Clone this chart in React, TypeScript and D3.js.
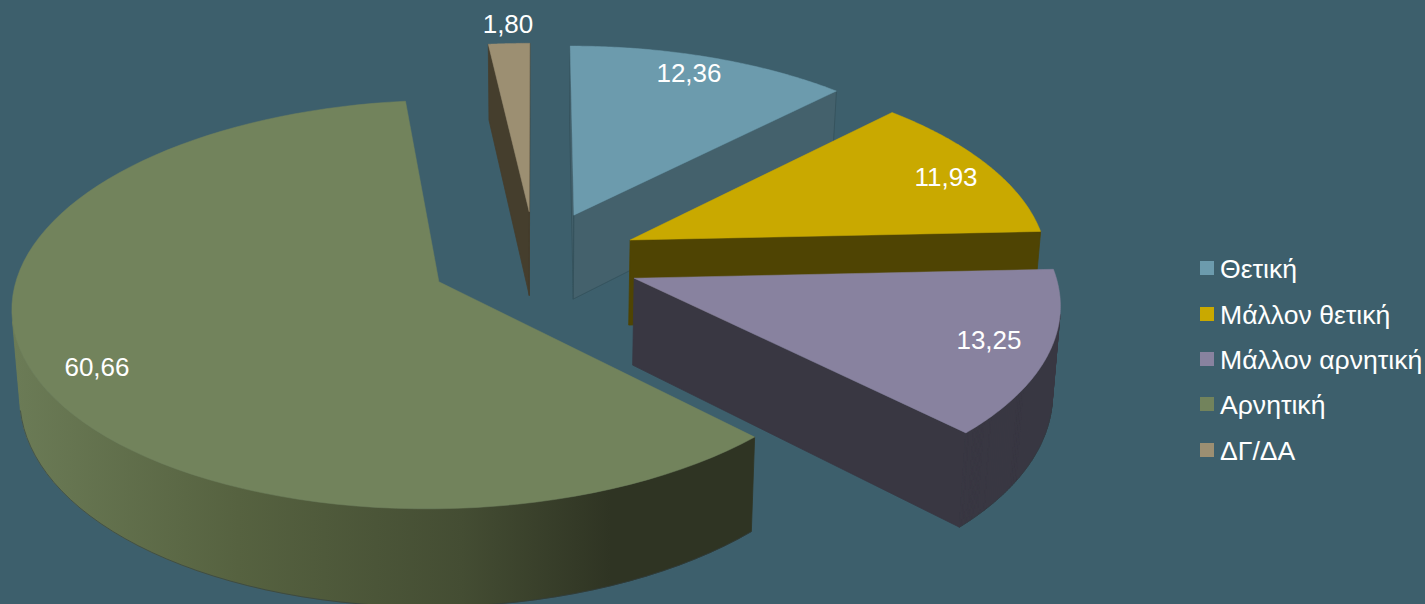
import React from "react";
import * as d3 from "d3";

const categories = ["Θετική", "Μάλλον θετική", "Μάλλον αρνητική", "Αρνητική", "ΔΓ/ΔΑ"];
const values = [12.36, 11.93, 13.25, 60.66, 1.8];
const valueLabels = ["12,36", "11,93", "13,25", "60,66", "1,80"];
const topColors = ["#6c9bad", "#c9a900", "#88829f", "#72835c", "#9c8f72"];
const faceColors = ["#44616c", "#4f4403", "#393742", "#2f3423", "#453e2d"];
const edgeColors = ["#34505a", "#4f4403", "#393742", "#2f3423", "#453e2d"];
const labelPositions: [number, number][] = [[689, 73], [946, 177], [989, 340], [97, 367], [508, 24]];
const legendRows = [269, 315, 360, 405, 451];

const W = 1425, H = 604;
const OX = 535, OY = 260, R = 418, RK = 197, P = 0.11, EXPLODE = 0.252, DEPTH = 86, SHRINK = 0.985;
const STEPS = 90;

type Pt = [number, number];
const project = (X: number, Y: number, bottom = false): Pt => {
  const s = 1 / (1 - P * Y);
  const px = R * X * s * (bottom ? SHRINK : 1);
  const py = RK * Y * s + (bottom ? DEPTH * s : 0);
  return [OX + px, OY + py];
};

const arcs = d3.pie<number>().sort(null)(values);
const line = d3.line<Pt>().curve(d3.curveLinear);
// d3.polygonArea is the negative of the screen-space shoelace half-sum
const area2 = (pts: Pt[]) => -2 * d3.polygonArea(pts);

function slicePaths(a: d3.PieArcDatum<number>) {
  const mid = (a.startAngle + a.endAngle) / 2;
  const ax = Math.sin(mid) * EXPLODE, ay = -Math.cos(mid) * EXPLODE;
  const angles = d3.range(0, STEPS + 1).map((i) => a.startAngle + ((a.endAngle - a.startAngle) * i) / STEPS);
  const rim = angles.map((t) => [ax + Math.sin(t), ay - Math.cos(t)] as Pt);
  const top = rim.map((p) => project(p[0], p[1]));
  const bot = rim.map((p) => project(p[0], p[1], true));
  const apexT = project(ax, ay), apexB = project(ax, ay, true);
  const close = (pts: Pt[]) => line(pts) + "Z";
  const faces: string[] = [];
  const startQuad: Pt[] = [apexT, top[0], bot[0], apexB];
  const endQuad: Pt[] = [apexT, top[STEPS], bot[STEPS], apexB];
  if (area2(startQuad) < 0) faces.push(close(startQuad));
  if (area2(endQuad) > 0) faces.push(close(endQuad));
  let wall = "";
  let rimEdge = "";
  for (let i = 0; i < STEPS; i++) {
    const q: Pt[] = [top[i], top[i + 1], bot[i + 1], bot[i]];
    if (area2(q) < 0) {
      wall += close(q);
      rimEdge += line([bot[i], bot[i + 1]]);
    }
  }
  return { top: close([apexT, ...top]), wall, rimEdge, faces };
}

export default function App() {
  const order = [4, 0, 1, 2, 3];
  return (
    <svg width={W} height={H} viewBox={`0 0 ${W} ${H}`}
      style={{ position: "fixed", left: 0, top: 0, display: "block" }}>
      <defs>
        <linearGradient id="wallGreen" gradientUnits="userSpaceOnUse" x1="15" x2="760" y1="0" y2="0">
          <stop offset="0" stopColor="#6b7b56" />
          <stop offset="0.3" stopColor="#566240" />
          <stop offset="0.6" stopColor="#444d33" />
          <stop offset="0.8" stopColor="#2f3423" />
          <stop offset="1" stopColor="#2f3423" />
        </linearGradient>
      </defs>
      <rect width={W} height={H} fill="#3d5f6c" />
      {order.map((i) => {
        const p = slicePaths(arcs[i]);
        const face = faceColors[i];
        const wall = i === 3 ? "url(#wallGreen)" : face;
        return (
          <g key={categories[i]}>
            {p.faces.map((d, k) => (
              <path key={k} d={d} fill={face} stroke={edgeColors[i]} strokeWidth={0.8} strokeLinejoin="round" />
            ))}
            {p.wall && <path d={p.wall} fill={wall} stroke={wall} strokeWidth={0.8} />}
            {p.rimEdge && <path d={p.rimEdge} fill="none" stroke="#2f3c42" strokeWidth={0.6} />}
            <path d={p.top} fill={topColors[i]} stroke={topColors[i]} strokeWidth={0.5} />
          </g>
        );
      })}
      <g fontFamily="'Liberation Sans', Arial, sans-serif" fontSize={26} fill="#ffffff" textAnchor="middle">
        {valueLabels.map((t, i) => (
          <text key={t} x={labelPositions[i][0]} y={labelPositions[i][1]} dy="0.35em">{t}</text>
        ))}
      </g>
      <g fontFamily="'Liberation Sans', Arial, sans-serif" fontSize={26.6} fill="#ffffff">
        {categories.map((c, i) => (
          <g key={c}>
            <rect x={1200} y={legendRows[i] - 8} width={14} height={14} fill={topColors[i]} />
            <text x={1220} y={legendRows[i]} dy="0.35em">{c}</text>
          </g>
        ))}
      </g>
    </svg>
  );
}
